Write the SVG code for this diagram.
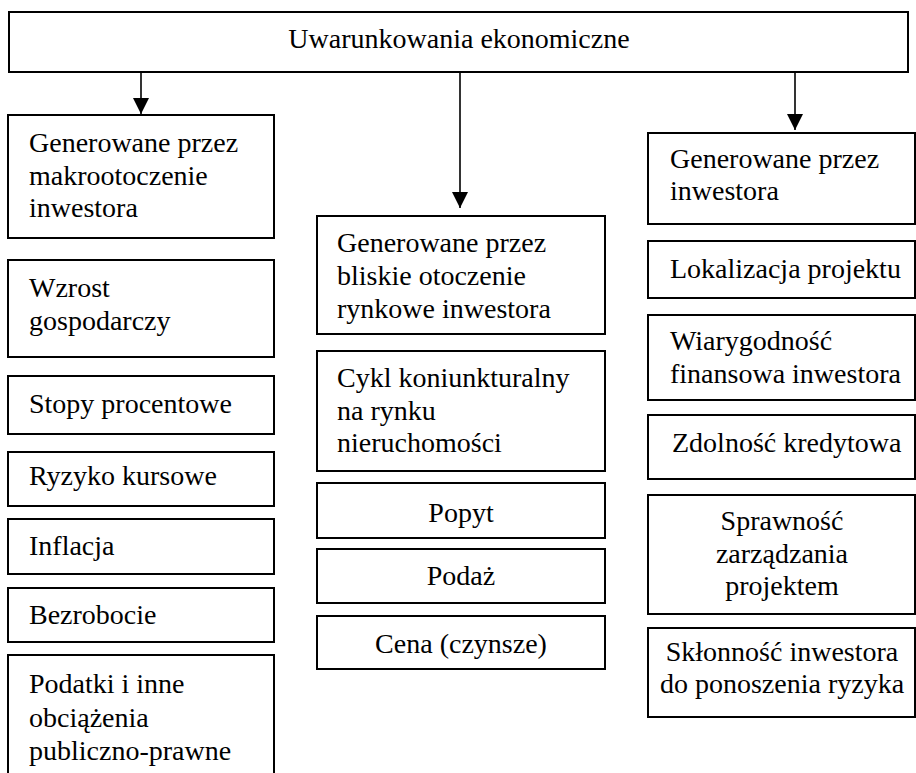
<svg xmlns="http://www.w3.org/2000/svg" width="916" height="773" viewBox="0 0 916 773">
<defs>
<style>
.b{fill:#fff;stroke:#000;stroke-width:2}
.t{font-family:"Liberation Serif","Times New Roman",serif;font-size:28px;fill:#000}
.c{text-anchor:middle}
.l{stroke:#000;stroke-width:1.6;fill:none}
</style>
<marker id="ah" viewBox="0 0 16 16" refX="16" refY="8" markerWidth="16" markerHeight="16" markerUnits="userSpaceOnUse" orient="auto">
<path d="M0,0 L16,8 L0,16 Z" fill="#000"/>
</marker>
</defs>
<rect width="916" height="773" fill="#fff"/>
<g id="connectors">
<line class="l" x1="141" y1="72" x2="141" y2="114" marker-end="url(#ah)"/>
<line class="l" x1="460" y1="72" x2="460" y2="208" marker-end="url(#ah)"/>
<line class="l" x1="795" y1="72" x2="795" y2="130" marker-end="url(#ah)"/>
</g>
<g id="root"><rect class="b" x="9" y="12" width="899" height="60"/><text class="t c" x="459" y="48">Uwarunkowania ekonomiczne</text></g>
<g id="l1"><rect class="b" x="8" y="115" width="266" height="123"/><text class="t" x="29" y="152">Generowane przez</text><text class="t" x="29" y="185">makrootoczenie</text><text class="t" x="29" y="217">inwestora</text></g>
<g id="l2"><rect class="b" x="8" y="260" width="266" height="97"/><text class="t" x="29" y="297">Wzrost</text><text class="t" x="29" y="330">gospodarczy</text></g>
<g id="l3"><rect class="b" x="8" y="376" width="266" height="58"/><text class="t" x="29" y="413">Stopy procentowe</text></g>
<g id="l4"><rect class="b" x="8" y="452" width="266" height="54"/><text class="t" x="29" y="485">Ryzyko kursowe</text></g>
<g id="l5"><rect class="b" x="8" y="519" width="266" height="55"/><text class="t" x="29" y="555">Inflacja</text></g>
<g id="l6"><rect class="b" x="8" y="588" width="266" height="54"/><text class="t" x="29" y="624">Bezrobocie</text></g>
<g id="l7"><path class="b" d="M8,780 V655 H274 V780"/><text class="t" x="29" y="693">Podatki i inne</text><text class="t" x="29" y="727">obciążenia</text><text class="t" x="29" y="760">publiczno-prawne</text></g>
<g id="m1"><rect class="b" x="317" y="216" width="288" height="118"/><text class="t" x="337" y="252">Generowane przez</text><text class="t" x="337" y="285">bliskie otoczenie</text><text class="t" x="337" y="318">rynkowe inwestora</text></g>
<g id="m2"><rect class="b" x="317" y="351" width="288" height="120"/><text class="t" x="337" y="387">Cykl koniunkturalny</text><text class="t" x="337" y="420">na rynku</text><text class="t" x="337" y="452">nieruchomości</text></g>
<g id="m3"><rect class="b" x="317" y="483" width="288" height="55"/><text class="t c" x="461" y="522">Popyt</text></g>
<g id="m4"><rect class="b" x="317" y="549" width="288" height="54"/><text class="t c" x="461" y="585">Podaż</text></g>
<g id="m5"><rect class="b" x="317" y="616" width="288" height="53"/><text class="t c" x="461" y="653">Cena (czynsze)</text></g>
<g id="r1"><rect class="b" x="648" y="133" width="267" height="91"/><text class="t" x="670" y="168">Generowane przez</text><text class="t" x="670" y="200">inwestora</text></g>
<g id="r2"><rect class="b" x="648" y="241" width="267" height="57"/><text class="t" x="670" y="278">Lokalizacja projektu</text></g>
<g id="r3"><rect class="b" x="648" y="315" width="267" height="85"/><text class="t" x="670" y="350">Wiarygodność</text><text class="t" x="670" y="383">finansowa inwestora</text></g>
<g id="r4"><rect class="b" x="648" y="415" width="267" height="64"/><text class="t" x="672" y="452">Zdolność kredytowa</text></g>
<g id="r5"><rect class="b" x="648" y="495" width="267" height="119"/><text class="t c" x="782" y="530">Sprawność</text><text class="t c" x="782" y="563">zarządzania</text><text class="t c" x="782" y="595">projektem</text></g>
<g id="r6"><rect class="b" x="648" y="628" width="267" height="89"/><text class="t c" x="782" y="661">Skłonność inwestora</text><text class="t c" x="782" y="693">do ponoszenia ryzyka</text></g>
</svg>
